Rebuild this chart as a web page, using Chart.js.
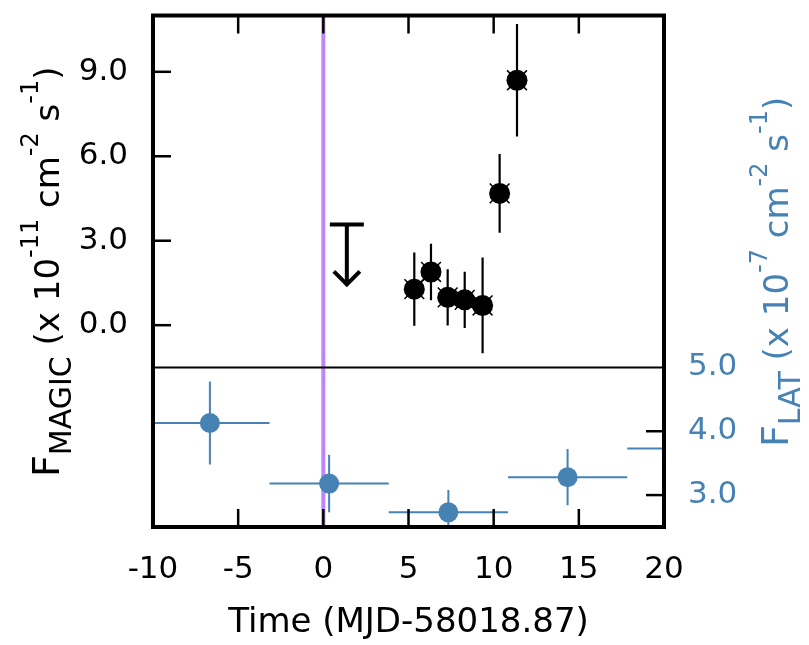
<!DOCTYPE html>
<html>
<head>
<meta charset="utf-8">
<script src="https://cdn.jsdelivr.net/npm/chart.js@4"></script>
<style>
  html, body { margin: 0; padding: 0; background: #ffffff; }
  canvas { display: block; }
</style>
</head>
<body>
<canvas id="c" width="809" height="645"></canvas>
<script>
// ---------- data ----------
const magicTime = [5.34, 6.32, 7.30, 8.30, 9.35, 10.35, 11.37];
const magicFlux = [1.28, 1.89, 0.99, 0.90, 0.70, 4.68, 8.70];
const magicErr  = [1.30, 1.00, 1.00, 1.00, 1.70, 1.40, 2.00];

const ulTime = [1.38];
const ulFlux = [3.58];

const latTime    = [-6.66, 0.34, 7.34, 14.34, 21.34];
const latFlux    = [4.13, 3.18, 2.73, 3.28, 3.73];
const latErr     = [0.65, 0.45, 0.35, 0.44, 0.40];
const latHalfBin = [3.5, 3.5, 3.5, 3.5, 3.5];

const eventLineTime = [0];

const xTicks     = [-10, -5, 0, 5, 10, 15, 20];
const magicTicks = [0, 3, 6, 9];
const latTicks   = [3, 4, 5];

const xRange     = [-10, 20];
const magicRange = [-1.5, 11];
const latRange   = [2.5, 5.0];

const xTitle = 'Time (MJD-58018.87)';
const magicTitle = [['F', 'main'], ['MAGIC', 'sub'], [' (x 10', 'text'], ['-11', 'sup'], [' cm', 'text'], ['-2', 'sup'], [' s', 'text'], ['-1', 'sup'], [')', 'text']];
const latTitle   = [['F', 'main'], ['LAT', 'sub'], [' (x 10', 'text'], ['-7', 'sup'], [' cm', 'text'], ['-2', 'sup'], [' s', 'text'], ['-1', 'sup'], [')', 'text']];

// ---------- style ----------
const FONT = "'DejaVu Sans', sans-serif";
const BLUE = '#4682B4';
const PURPLE = '#C084FC';
const TOP_FRACTION = 0.688;   // share of plot height taken by the MAGIC panel

// Each y axis spans the full plot height; ranges are extended so each panel gets its share.
const magicSpan = magicRange[1] - magicRange[0];
const magicAxisMin = magicRange[1] - magicSpan / TOP_FRACTION;
const latSpan = latRange[1] - latRange[0];
const latAxisMax = latRange[0] + latSpan / (1 - TOP_FRACTION);

const richStyles = {
  main: { size: 38, dy: 0 },
  sub:  { size: 30, dy: 12 },
  text: { size: 34, dy: 0 },
  sup:  { size: 24, dy: -21 }
};

function drawRich(ctx, parts, x0, y0, color) {
  ctx.save();
  ctx.translate(x0, y0);
  ctx.rotate(-Math.PI / 2);
  ctx.fillStyle = color;
  ctx.textAlign = 'left';
  ctx.textBaseline = 'alphabetic';
  let cx = 0;
  parts.forEach(([t, k]) => {
    const s = richStyles[k];
    ctx.font = s.size + 'px ' + FONT;
    ctx.fillText(t, cx, s.dy);
    cx += ctx.measureText(t).width;
  });
  ctx.restore();
}

function seg(ctx, x1, y1, x2, y2) {
  ctx.beginPath(); ctx.moveTo(x1, y1); ctx.lineTo(x2, y2); ctx.stroke();
}

function noPad(s) {
  s.paddingTop = 0; s.paddingBottom = 0; s.paddingLeft = 0; s.paddingRight = 0;
}

const panelPlugin = {
  id: 'panels',
  beforeDatasetsDraw(chart) {
    const { ctx, chartArea: a, scales } = chart;
    const x = scales.x, yM = scales.yMagic, yL = scales.yLat;
    const sepY = yM.getPixelForValue(magicRange[0]);
    ctx.save();
    ctx.lineCap = 'butt';

    // LAT panel (clip to bottom panel)
    ctx.save();
    ctx.beginPath(); ctx.rect(a.left, sepY, a.right - a.left, a.bottom - sepY); ctx.clip();
    ctx.strokeStyle = BLUE; ctx.lineWidth = 2;
    latTime.forEach((t, i) => {
      const px = x.getPixelForValue(t), py = yL.getPixelForValue(latFlux[i]);
      seg(ctx, x.getPixelForValue(t - latHalfBin[i]), py, x.getPixelForValue(t + latHalfBin[i]), py);
      seg(ctx, px, yL.getPixelForValue(latFlux[i] - latErr[i]), px, yL.getPixelForValue(latFlux[i] + latErr[i]));
    });
    ctx.restore();

    // MAGIC panel (clip to top panel)
    ctx.save();
    ctx.beginPath(); ctx.rect(a.left, a.top, a.right - a.left, sepY - a.top); ctx.clip();
    ctx.strokeStyle = '#000'; ctx.lineWidth = 2.2;
    magicTime.forEach((t, i) => {
      const px = x.getPixelForValue(t);
      seg(ctx, px, yM.getPixelForValue(magicFlux[i] - magicErr[i]), px, yM.getPixelForValue(magicFlux[i] + magicErr[i]));
    });
    // upper limit
    ctx.lineWidth = 4;
    ulTime.forEach((t, i) => {
      const px = x.getPixelForValue(t), py = yM.getPixelForValue(ulFlux[i]);
      const tip = py + 60;
      seg(ctx, px - 17, py, px + 17, py);
      seg(ctx, px, py, px, tip);
      ctx.beginPath();
      ctx.moveTo(px - 13, tip - 13); ctx.lineTo(px, tip); ctx.lineTo(px + 13, tip - 13);
      ctx.stroke();
    });
    ctx.restore();

    // event line
    ctx.strokeStyle = PURPLE; ctx.lineWidth = 4;
    eventLineTime.forEach(t => {
      const px = x.getPixelForValue(t);
      seg(ctx, px, a.top, px, a.bottom);
    });
    ctx.restore();
  },
  afterDraw(chart) {
    const { ctx, chartArea: a, scales } = chart;
    const x = scales.x, yM = scales.yMagic, yL = scales.yLat;
    const sepY = yM.getPixelForValue(magicRange[0]);
    const TL = 18;
    ctx.save();
    ctx.strokeStyle = '#000';
    ctx.lineCap = 'butt';
    // ticks
    ctx.lineWidth = 2.5;
    xTicks.forEach(v => {
      if (v <= xRange[0] || v >= xRange[1]) return;
      const px = x.getPixelForValue(v);
      seg(ctx, px, a.top, px, a.top + TL);
      seg(ctx, px, a.bottom, px, a.bottom - TL);
    });
    magicTicks.forEach(v => {
      const py = yM.getPixelForValue(v);
      seg(ctx, a.left, py, a.left + TL, py);
    });
    latTicks.forEach(v => {
      if (v >= latRange[1]) return;
      const py = yL.getPixelForValue(v);
      seg(ctx, a.right, py, a.right - TL, py);
    });
    // separator
    ctx.lineWidth = 2;
    seg(ctx, a.left, sepY, a.right, sepY);
    // frame
    ctx.lineWidth = 4;
    ctx.strokeRect(a.left, a.top, a.right - a.left, a.bottom - a.top);
    ctx.restore();

    // axis titles
    drawRich(ctx, magicTitle, 59, 477, '#000');
    drawRich(ctx, latTitle, 788, 447, BLUE);
  }
};

new Chart(document.getElementById('c'), {
  type: 'scatter',
  data: {
    datasets: [
      {
        label: 'LAT',
        data: latTime.map((t, i) => ({ x: t, y: latFlux[i] })),
        xAxisID: 'x', yAxisID: 'yLat',
        pointRadius: 10, pointBackgroundColor: BLUE, pointBorderWidth: 0, pointBorderColor: BLUE,
        clip: 0
      },
      {
        label: 'MAGIC cross',
        data: magicTime.map((t, i) => ({ x: t, y: magicFlux[i] })),
        xAxisID: 'x', yAxisID: 'yMagic',
        pointStyle: 'crossRot', pointRadius: 14, pointBorderColor: '#000', pointBorderWidth: 1.5,
        pointBackgroundColor: '#000'
      },
      {
        label: 'MAGIC',
        data: magicTime.map((t, i) => ({ x: t, y: magicFlux[i] })),
        xAxisID: 'x', yAxisID: 'yMagic',
        pointRadius: 10.5, pointBackgroundColor: '#000', pointBorderWidth: 0, pointBorderColor: '#000'
      }
    ]
  },
  options: {
    responsive: false,
    animation: false,
    events: [],
    layout: { padding: { top: 11, left: 0, right: 0, bottom: 0 } },
    plugins: { legend: { display: false }, tooltip: { enabled: false } },
    scales: {
      x: {
        type: 'linear', position: 'bottom', min: xRange[0], max: xRange[1],
        grid: { display: false, drawTicks: false }, border: { display: false },
        afterBuildTicks: s => { s.ticks = xTicks.map(v => ({ value: v })); },
        afterFit: s => { s.height = 118; noPad(s); },
        ticks: { padding: 24, color: '#000', font: { family: FONT, size: 31 }, maxRotation: 0, autoSkip: false,
                 callback: v => String(v) },
        title: { display: true, text: xTitle, color: '#000', font: { family: FONT, size: 34 },
                 padding: { top: 0, bottom: 1 } }
      },
      yMagic: {
        type: 'linear', position: 'left', min: magicAxisMin, max: magicRange[1],
        grid: { display: false, drawTicks: false }, border: { display: false },
        afterBuildTicks: s => { s.ticks = magicTicks.map(v => ({ value: v })); },
        afterFit: s => { s.width = 153; noPad(s); },
        ticks: { padding: 25, color: '#000', font: { family: FONT, size: 31 }, autoSkip: false,
                 callback: v => Number(v).toFixed(1) }
      },
      yLat: {
        type: 'linear', position: 'right', min: latRange[0], max: latAxisMax,
        grid: { display: false, drawTicks: false }, border: { display: false },
        afterBuildTicks: s => { s.ticks = latTicks.map(v => ({ value: v })); },
        afterFit: s => { s.width = 145; noPad(s); },
        ticks: { padding: 24, color: BLUE, font: { family: FONT, size: 31 }, autoSkip: false,
                 callback: v => Number(v).toFixed(1) }
      }
    }
  },
  plugins: [panelPlugin]
});
</script>
</body>
</html>
